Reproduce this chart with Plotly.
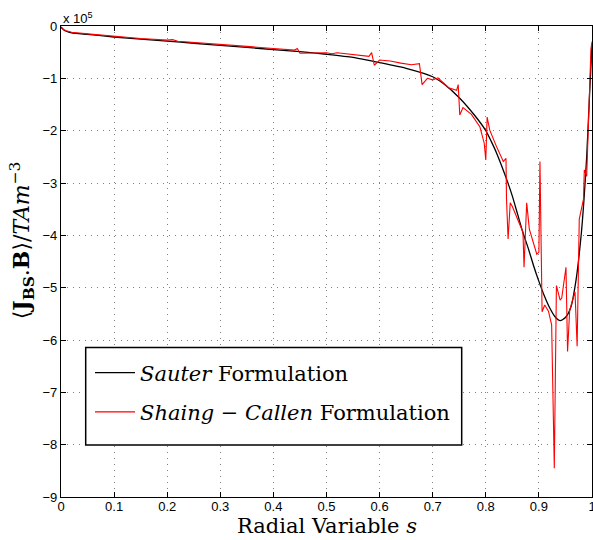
import plotly.graph_objects as go

# radial variable s and bootstrap current <J_BS.B> in units of 1e5 T A m^-3
sauter_s = [0, 0.005, 0.01, 0.02, 0.05, 0.1, 0.15, 0.2, 0.25, 0.3, 0.35, 0.4, 0.45,
            0.5, 0.55, 0.6, 0.65, 0.7, 0.72, 0.75, 0.78, 0.8, 0.81, 0.82, 0.84, 0.85,
            0.86, 0.87, 0.88, 0.89, 0.9, 0.91, 0.92, 0.93, 0.94, 0.95, 0.96, 0.97,
            0.98, 0.985, 0.99, 0.995, 1.0]
sauter_v = [-0.02, -0.07, -0.1, -0.13, -0.16, -0.21, -0.25, -0.29, -0.33, -0.37, -0.41,
            -0.45, -0.49, -0.54, -0.60, -0.70, -0.81, -0.97, -1.10, -1.37, -1.72, -2.0,
            -2.2, -2.42, -2.95, -3.25, -3.6, -3.95, -4.25, -4.58, -4.88, -5.15, -5.38,
            -5.55, -5.63, -5.57, -5.38, -4.85, -3.95, -3.3, -2.5, -1.4, -0.35]

shaing_s = [0, 0.005, 0.01, 0.02, 0.05, 0.1, 0.15, 0.2, 0.21, 0.22, 0.25, 0.3, 0.35,
            0.4, 0.44, 0.445, 0.45, 0.5, 0.51, 0.52, 0.55, 0.58, 0.585, 0.59, 0.6, 0.62,
            0.64, 0.66, 0.675, 0.68, 0.69, 0.70, 0.71, 0.73, 0.745, 0.748, 0.751, 0.757,
            0.773, 0.789, 0.797, 0.800, 0.8025, 0.8075, 0.82, 0.833, 0.838, 0.839,
            0.842, 0.846, 0.85, 0.86, 0.870, 0.872, 0.877, 0.882, 0.896, 0.900, 0.902,
            0.906, 0.911, 0.918, 0.924, 0.929, 0.933, 0.94, 0.943, 0.951, 0.954, 0.958,
            0.968, 0.972, 0.976, 0.984, 0.9855, 0.99, 0.996, 0.998, 1.0]
shaing_v = [-0.03, -0.07, -0.09, -0.12, -0.15, -0.2, -0.24, -0.27, -0.26, -0.29, -0.31,
            -0.35, -0.39, -0.43, -0.46, -0.43, -0.52, -0.51, -0.53, -0.51, -0.55, -0.58,
            -0.51, -0.75, -0.65, -0.67, -0.71, -0.74, -0.72, -1.12, -1.0, -1.03, -0.99,
            -1.18, -1.23, -1.12, -1.70, -1.56, -1.69, -1.93, -2.24, -2.56, -1.74, -1.99,
            -2.3, -2.59, -2.53, -3.31, -4.07, -3.38, -3.45, -3.7, -3.94, -4.61, -3.38,
            -3.88, -4.36, -4.32, -2.59, -5.46, -5.33, -5.45, -5.71, -8.45, -4.96, -5.24,
            -5.2, -4.61, -6.22, -5.43, -5.08, -6.12, -3.69, -3.31, -2.75, -2.87, -1.04,
            -0.44, -0.3]

x_ticks = [0, 0.1, 0.2, 0.3, 0.4, 0.5, 0.6, 0.7, 0.8, 0.9, 1]
x_ticklabels = ["0", "0.1", "0.2", "0.3", "0.4", "0.5", "0.6", "0.7", "0.8", "0.9", "1"]
y_ticks = [0, -1, -2, -3, -4, -5, -6, -7, -8, -9]
y_ticklabels = ["0", "\u22121", "\u22122", "\u22123", "\u22124", "\u22125", "\u22126",
                "\u22127", "\u22128", "\u22129"]
scale = 1e5

serif = "DejaVu Serif, serif"
sans = "Liberation Sans, Arial, sans-serif"

fig = go.Figure()
fig.add_trace(go.Scatter(
    x=sauter_s, y=[v * scale for v in sauter_v], mode="lines",
    line=dict(color="black", width=1.3, shape="spline", smoothing=0.6),
    name="<i>Sauter</i> Formulation", legendgroup="a"))
fig.add_trace(go.Scatter(
    x=shaing_s, y=[v * scale for v in shaing_v], mode="lines",
    line=dict(color="#ff0000", width=1.1),
    name="<i>Shaing</i> \u2212 <i>Callen</i> Formulation", legendgroup="b"))

axis_style = dict(showgrid=True, gridcolor="#808080", griddash="1px,5px", gridwidth=1,
                  showline=True, linecolor="black", linewidth=1.2, mirror="ticks",
                  ticks="inside", ticklen=5, tickcolor="black", zeroline=False,
                  automargin=False, ticklabeloverflow="allow",
                  tickfont=dict(family=sans, size=13, color="black"))

fig.update_layout(
    width=593, height=540,
    margin=dict(l=61, r=1, t=26, b=43),
    paper_bgcolor="white", plot_bgcolor="white",
    showlegend=True,
    legend=dict(x=0.0546, y=0.307, xanchor="left", yanchor="top",
                bgcolor="rgba(0,0,0,0)", borderwidth=0,
                font=dict(family=serif, size=21, color="black"),
                tracegroupgap=9, itemwidth=40),
    xaxis=dict(range=[0, 1], tickvals=x_ticks, ticktext=x_ticklabels,
               ticklabelstandoff=-3, **axis_style),
    yaxis=dict(range=[-9 * scale, 0], tickvals=[t * scale for t in y_ticks],
               ticktext=y_ticklabels, **axis_style),
)

# legend frame
fig.add_shape(type="rect", xref="paper", yref="paper", x0=0.0465, x1=0.7546,
              y0=0.1103, y1=0.3176, fillcolor="white",
              line=dict(color="black", width=1.5), layer="above")

fig.add_annotation(text="x 10<sup>5</sup>", xref="paper", yref="paper",
                   x=0, y=1, xanchor="left", yanchor="bottom", showarrow=False,
                   font=dict(family=sans, size=13, color="black"), yshift=-2)
fig.add_annotation(text="Radial Variable <i>s</i>", xref="paper", yref="paper",
                   x=0.5, y=0, xanchor="center", yanchor="middle", showarrow=False,
                   yshift=-29, font=dict(family=serif, size=21, color="black"))
fig.add_annotation(text="\u27e8<b>J</b><sub><b>BS</b></sub>.<b>B</b>\u27e9/<i>TAm</i><sup>\u22123</sup>",
                   xref="paper", yref="paper", x=0, y=0.545, xanchor="center",
                   yanchor="middle", textangle=-90, showarrow=False, xshift=-39,
                   font=dict(family=serif, size=22, color="black"))

fig.write_html("out.html", config={"displayModeBar": False},
               post_script="document.body.style.margin='0';document.body.style.overflow='hidden';")
